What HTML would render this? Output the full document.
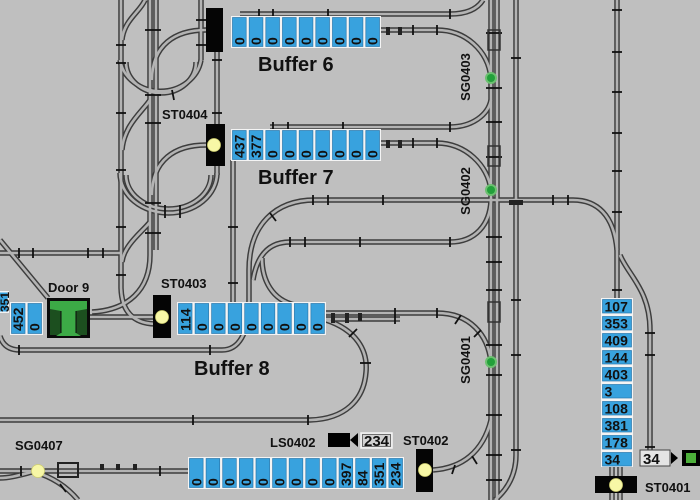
<!DOCTYPE html>
<html><head><meta charset="utf-8">
<style>
html,body{margin:0;padding:0;background:#bfbfbf;}
svg{display:block;}
text{font-family:"Liberation Sans",Arial,sans-serif;font-weight:bold;fill:#111;}
</style></head><body>
<svg width="700" height="500" viewBox="0 0 700 500" xmlns="http://www.w3.org/2000/svg">
<rect width="700" height="500" fill="#bfbfbf"/>
<defs>
<g id="rails" fill="none">
<path d="M121,0 V288 Q122,323 155,324"/>
<path d="M120,60 A41,37 0 0 0 201,60"/>
<path d="M126,62 A35,31 0 0 0 196,62"/>
<path d="M201,0 V60"/>
<path d="M120,173 A48.5,40 0 0 0 217,173"/>
<path d="M126,175 A42.5,34 0 0 0 211,175"/>
<path d="M217,52 V124"/>
<path d="M217,166 V175"/>
<path d="M233,160 V303"/>
<path d="M206,30 C175,30 152,45 152,80"/>
<path d="M206,145 C175,145 152,160 152,195"/>
<path d="M150,0 V255 C150,290 128,310 92,312"/>
<path d="M156,0 V250"/>
<path d="M145,0 C140,12 124,20 122,40"/>
<path d="M150,100 C142,112 124,125 122,150"/>
<path d="M150,222 C142,232 124,245 122,262"/>
<path d="M0,253 H121"/>
<path d="M0,240 L48,298"/>
<path d="M90,317 H153"/>
<path d="M0,336 Q4,350 20,350 H222 C238,350 249,335 249,300 V270 C249,225 275,200 315,200 H573 C597,200 614,215 617,250"/>
<path d="M290,242 H450 C475,242 490,225 491,200"/>
<path d="M290,242 C268,242 257,256 253,280"/>
<path d="M262,258 C262,280 272,300 295,305"/>
<path d="M326,313 H437 C470,313 488,335 491,362"/>
<path d="M326,319 H400"/>
<path d="M326,320 C356,330 368,350 366,372 C364,400 345,419 310,420 H0"/>
<path d="M0,471 H188"/>
<path d="M0,478 C10,478 20,475 32,472"/>
<path d="M35,472 C55,478 68,488 78,500"/>
<path d="M433,470 C462,468 483,452 491,420"/>
<path d="M491,0 V500"/>
<path d="M497,0 V500"/>
<path d="M516,0 V455 Q516,482 495,500"/>
<path d="M381,30 H437 C465,30 488,50 491,78"/>
<path d="M240,14 H450 C468,14 478,8 483,0"/>
<path d="M270,127 H450 C472,127 488,115 491,100"/>
<path d="M381,143 H437 C465,143 488,165 491,190"/>
<path d="M617,0 V298"/>
<path d="M620,255 C628,275 650,290 650,330 V452"/>
<path d="M612,466 V476"/>
<path d="M620,466 V476"/>
<path d="M612,493 V500"/>
<path d="M620,493 V500"/>
</g>
</defs>
<use href="#rails" stroke="#3d3d3d" stroke-width="5.5"/>
<use href="#rails" stroke="#b3b3b3" stroke-width="2.6"/>

<!-- ties -->
<g stroke="#111" stroke-width="1.8">
<line x1="116" y1="45" x2="126" y2="45"/><line x1="116" y1="63" x2="126" y2="63"/><line x1="116" y1="113" x2="126" y2="113"/><line x1="116" y1="170" x2="126" y2="170"/><line x1="116" y1="227" x2="126" y2="227"/><line x1="116" y1="275" x2="126" y2="275"/>
<line x1="145" y1="30" x2="161" y2="30"/><line x1="145" y1="95" x2="161" y2="95"/><line x1="145" y1="123" x2="161" y2="123"/><line x1="145" y1="203" x2="161" y2="203"/><line x1="145" y1="233" x2="161" y2="233"/>
<line x1="196" y1="20" x2="206" y2="20"/><line x1="196" y1="45" x2="206" y2="45"/>
<line x1="212" y1="60" x2="222" y2="60"/><line x1="212" y1="113" x2="222" y2="113"/>
<line x1="228" y1="227" x2="238" y2="227"/><line x1="228" y1="283" x2="238" y2="283"/>
<line x1="486" y1="33" x2="502" y2="33"/><line x1="486" y1="88" x2="502" y2="88"/><line x1="486" y1="122" x2="502" y2="122"/><line x1="486" y1="157" x2="502" y2="157"/><line x1="486" y1="237" x2="502" y2="237"/><line x1="486" y1="262" x2="502" y2="262"/><line x1="486" y1="290" x2="502" y2="290"/><line x1="486" y1="345" x2="502" y2="345"/><line x1="486" y1="375" x2="502" y2="375"/><line x1="486" y1="415" x2="502" y2="415"/><line x1="486" y1="455" x2="502" y2="455"/><line x1="486" y1="480" x2="502" y2="480"/>
<line x1="511" y1="58" x2="521" y2="58"/><line x1="511" y1="300" x2="521" y2="300"/><line x1="511" y1="355" x2="521" y2="355"/><line x1="511" y1="450" x2="521" y2="450"/>
<line x1="612" y1="10" x2="622" y2="10"/><line x1="612" y1="52" x2="622" y2="52"/><line x1="612" y1="92" x2="622" y2="92"/><line x1="612" y1="133" x2="622" y2="133"/><line x1="612" y1="171" x2="622" y2="171"/><line x1="612" y1="212" x2="622" y2="212"/><line x1="612" y1="290" x2="622" y2="290"/>
<line x1="645" y1="333" x2="655" y2="333"/><line x1="645" y1="355" x2="655" y2="355"/><line x1="645" y1="447" x2="655" y2="447"/>
<line x1="259" y1="9" x2="259" y2="19"/><line x1="273" y1="9" x2="273" y2="19"/><line x1="328" y1="9" x2="328" y2="19"/><line x1="450" y1="9" x2="450" y2="19"/>
<line x1="413" y1="25" x2="413" y2="35"/><line x1="437" y1="25" x2="437" y2="35"/>
<line x1="273" y1="122" x2="273" y2="132"/><line x1="288" y1="122" x2="288" y2="132"/><line x1="343" y1="122" x2="343" y2="132"/><line x1="450" y1="122" x2="450" y2="132"/>
<line x1="413" y1="138" x2="413" y2="148"/><line x1="437" y1="138" x2="437" y2="148"/>
<line x1="313" y1="195" x2="313" y2="205"/><line x1="328" y1="195" x2="328" y2="205"/><line x1="383" y1="195" x2="383" y2="205"/><line x1="553" y1="195" x2="553" y2="205"/><line x1="568" y1="195" x2="568" y2="205"/>
<line x1="290" y1="237" x2="290" y2="247"/><line x1="305" y1="237" x2="305" y2="247"/><line x1="360" y1="237" x2="360" y2="247"/><line x1="450" y1="237" x2="450" y2="247"/>
<line x1="19" y1="248" x2="19" y2="258"/><line x1="33" y1="248" x2="33" y2="258"/><line x1="88" y1="248" x2="88" y2="258"/><line x1="103" y1="248" x2="103" y2="258"/>
<line x1="395" y1="308" x2="395" y2="324"/><line x1="437" y1="308" x2="437" y2="318"/>
<line x1="19" y1="345" x2="19" y2="355"/><line x1="210" y1="345" x2="210" y2="355"/>
<line x1="193" y1="415" x2="193" y2="425"/><line x1="308" y1="415" x2="308" y2="425"/>
<line x1="21" y1="466" x2="21" y2="476"/><line x1="160" y1="466" x2="160" y2="476"/>
<line x1="349" y1="337" x2="357" y2="329"/><line x1="360" y1="363" x2="371" y2="363"/><line x1="455" y1="324" x2="461" y2="315"/><line x1="474" y1="337" x2="481" y2="330"/>
<line x1="270" y1="213" x2="276" y2="221"/><line x1="455" y1="465" x2="452" y2="474"/><line x1="472" y1="456" x2="477" y2="464"/>
<line x1="172" y1="90" x2="174" y2="100"/><line x1="180" y1="205" x2="180" y2="218"/><line x1="165" y1="205" x2="165" y2="218"/>
<line x1="60" y1="484" x2="66" y2="492"/>
</g>

<!-- small equipment shapes -->
<g fill="#222">
<rect x="58" y="463" width="20" height="14" fill="none" stroke="#222" stroke-width="2"/>
<rect x="100" y="464" width="4" height="6"/><rect x="116" y="464" width="4" height="6"/><rect x="133" y="464" width="4" height="6"/>
<rect x="488" y="30" width="12" height="20" fill="none" stroke="#333" stroke-width="1.5"/>
<rect x="488" y="146" width="12" height="20" fill="none" stroke="#333" stroke-width="1.5"/>
<rect x="488" y="302" width="12" height="20" fill="none" stroke="#333" stroke-width="1.5"/>
<rect x="509" y="200" width="14" height="5"/>
<rect x="386" y="27" width="4" height="8"/><rect x="398" y="27" width="4" height="8"/>
<rect x="386" y="140" width="4" height="8"/><rect x="398" y="140" width="4" height="8"/>
<rect x="331" y="313" width="4" height="10"/><rect x="345" y="313" width="4" height="10"/><rect x="358" y="313" width="4" height="8"/>
</g>

<!-- Buffer 6 -->
<rect x="231" y="16" width="150" height="32" fill="#f4f4f4"/>
<g fill="#38a2de" stroke="#2a78ad" stroke-width="0.7">
<rect x="232.5" y="17.5" width="13.7" height="29"/><rect x="249.2" y="17.5" width="13.7" height="29"/><rect x="265.8" y="17.5" width="13.7" height="29"/><rect x="282.5" y="17.5" width="13.7" height="29"/><rect x="299.2" y="17.5" width="13.7" height="29"/><rect x="315.8" y="17.5" width="13.7" height="29"/><rect x="332.5" y="17.5" width="13.7" height="29"/><rect x="349.2" y="17.5" width="13.7" height="29"/><rect x="365.8" y="17.5" width="13.7" height="29"/>
</g>
<g font-size="14">
<text transform="translate(244.3,45) rotate(-90)">0</text><text transform="translate(261,45) rotate(-90)">0</text><text transform="translate(277.7,45) rotate(-90)">0</text><text transform="translate(294.3,45) rotate(-90)">0</text><text transform="translate(311,45) rotate(-90)">0</text><text transform="translate(327.7,45) rotate(-90)">0</text><text transform="translate(344.3,45) rotate(-90)">0</text><text transform="translate(361,45) rotate(-90)">0</text><text transform="translate(377.7,45) rotate(-90)">0</text>
</g>

<!-- Buffer 7 -->
<rect x="231" y="129" width="150" height="32" fill="#f4f4f4"/>
<g fill="#38a2de" stroke="#2a78ad" stroke-width="0.7">
<rect x="232.5" y="130.5" width="13.7" height="29"/><rect x="249.2" y="130.5" width="13.7" height="29"/><rect x="265.8" y="130.5" width="13.7" height="29"/><rect x="282.5" y="130.5" width="13.7" height="29"/><rect x="299.2" y="130.5" width="13.7" height="29"/><rect x="315.8" y="130.5" width="13.7" height="29"/><rect x="332.5" y="130.5" width="13.7" height="29"/><rect x="349.2" y="130.5" width="13.7" height="29"/><rect x="365.8" y="130.5" width="13.7" height="29"/>
</g>
<g font-size="14">
<text transform="translate(244.3,158) rotate(-90)">437</text><text transform="translate(261,158) rotate(-90)">377</text><text transform="translate(277.7,158) rotate(-90)">0</text><text transform="translate(294.3,158) rotate(-90)">0</text><text transform="translate(311,158) rotate(-90)">0</text><text transform="translate(327.7,158) rotate(-90)">0</text><text transform="translate(344.3,158) rotate(-90)">0</text><text transform="translate(361,158) rotate(-90)">0</text><text transform="translate(377.7,158) rotate(-90)">0</text>
</g>

<!-- Buffer 8 -->
<rect x="177" y="302" width="149" height="33" fill="#f4f4f4"/>
<g fill="#38a2de" stroke="#2a78ad" stroke-width="0.7">
<rect x="178.5" y="303.5" width="13.5" height="30"/><rect x="195.1" y="303.5" width="13.5" height="30"/><rect x="211.6" y="303.5" width="13.5" height="30"/><rect x="228.2" y="303.5" width="13.5" height="30"/><rect x="244.7" y="303.5" width="13.5" height="30"/><rect x="261.3" y="303.5" width="13.5" height="30"/><rect x="277.8" y="303.5" width="13.5" height="30"/><rect x="294.4" y="303.5" width="13.5" height="30"/><rect x="310.9" y="303.5" width="13.5" height="30"/>
</g>
<g font-size="14">
<text transform="translate(190.3,331) rotate(-90)">114</text><text transform="translate(206.9,331) rotate(-90)">0</text><text transform="translate(223.4,331) rotate(-90)">0</text><text transform="translate(240,331) rotate(-90)">0</text><text transform="translate(256.5,331) rotate(-90)">0</text><text transform="translate(273.1,331) rotate(-90)">0</text><text transform="translate(289.6,331) rotate(-90)">0</text><text transform="translate(306.2,331) rotate(-90)">0</text><text transform="translate(322.7,331) rotate(-90)">0</text>
</g>

<!-- Left cells -->
<rect x="-2" y="291" width="11" height="22" fill="#f4f4f4"/>
<rect x="-2" y="292.5" width="9.5" height="19" fill="#38a2de"/>
<rect x="10" y="302" width="33" height="33" fill="#f4f4f4"/>
<rect x="11.5" y="303.5" width="13.5" height="30" fill="#38a2de" stroke="#2a78ad" stroke-width="0.7"/>
<rect x="28" y="303.5" width="13.5" height="30" fill="#38a2de" stroke="#2a78ad" stroke-width="0.7"/>
<g font-size="14">
<text transform="translate(9,312) rotate(-90)" font-size="12">351</text>
<text transform="translate(23.2,331) rotate(-90)">452</text>
<text transform="translate(39.7,331) rotate(-90)">0</text>
</g>

<!-- Bottom strip -->
<rect x="188" y="457" width="216" height="32" fill="#f4f4f4"/>
<g fill="#38a2de" stroke="#2a78ad" stroke-width="0.7">
<rect x="189.5" y="458.5" width="13.6" height="29"/><rect x="206.1" y="458.5" width="13.6" height="29"/><rect x="222.7" y="458.5" width="13.6" height="29"/><rect x="239.4" y="458.5" width="13.6" height="29"/><rect x="256" y="458.5" width="13.6" height="29"/><rect x="272.6" y="458.5" width="13.6" height="29"/><rect x="289.2" y="458.5" width="13.6" height="29"/><rect x="305.8" y="458.5" width="13.6" height="29"/><rect x="322.5" y="458.5" width="13.6" height="29"/><rect x="339.1" y="458.5" width="13.6" height="29"/><rect x="355.7" y="458.5" width="13.6" height="29"/><rect x="372.3" y="458.5" width="13.6" height="29"/><rect x="388.9" y="458.5" width="13.6" height="29"/>
</g>
<g font-size="14">
<text transform="translate(201.3,486) rotate(-90)">0</text><text transform="translate(217.9,486) rotate(-90)">0</text><text transform="translate(234.5,486) rotate(-90)">0</text><text transform="translate(251.2,486) rotate(-90)">0</text><text transform="translate(267.8,486) rotate(-90)">0</text><text transform="translate(284.4,486) rotate(-90)">0</text><text transform="translate(301,486) rotate(-90)">0</text><text transform="translate(317.6,486) rotate(-90)">0</text><text transform="translate(334.3,486) rotate(-90)">0</text><text transform="translate(350.9,486) rotate(-90)">397</text><text transform="translate(367.5,486) rotate(-90)">84</text><text transform="translate(384.1,486) rotate(-90)">351</text><text transform="translate(400.7,486) rotate(-90)">234</text>
</g>

<!-- Right stack -->
<rect x="601" y="298" width="32" height="169" fill="#f4f4f4"/>
<g fill="#38a2de" stroke="#2a78ad" stroke-width="0.7">
<rect x="602.5" y="299.5" width="29" height="13.5"/><rect x="602.5" y="316.5" width="29" height="13.5"/><rect x="602.5" y="333.5" width="29" height="13.5"/><rect x="602.5" y="350.5" width="29" height="13.5"/><rect x="602.5" y="367.5" width="29" height="13.5"/><rect x="602.5" y="384.5" width="29" height="13.5"/><rect x="602.5" y="401.5" width="29" height="13.5"/><rect x="602.5" y="418.5" width="29" height="13.5"/><rect x="602.5" y="435.5" width="29" height="13.5"/><rect x="602.5" y="452.5" width="29" height="13.5"/>
</g>
<g font-size="14">
<text x="604.5" y="311.5">107</text><text x="604.5" y="328.5">353</text><text x="604.5" y="345.5">409</text><text x="604.5" y="362.5">144</text><text x="604.5" y="379.5">403</text><text x="604.5" y="396.5">3</text><text x="604.5" y="413.5">108</text><text x="604.5" y="430.5">381</text><text x="604.5" y="447.5">178</text><text x="604.5" y="464.5">34</text>
</g>

<!-- blocks -->
<g fill="#050505">
<rect x="206" y="8" width="17" height="44"/>
<rect x="206" y="124" width="19" height="42"/>
<rect x="153" y="295" width="18" height="43"/>
<rect x="416" y="449" width="17" height="43"/>
<rect x="595" y="476" width="42" height="17"/>
</g>
<g fill="#f7f7a6" stroke="#cfcf70" stroke-width="0.8">
<circle cx="214" cy="145" r="6.5"/>
<circle cx="162" cy="317" r="6.5"/>
<circle cx="425" cy="470" r="6.5"/>
<circle cx="616" cy="485" r="6.5"/>
<circle cx="38" cy="471" r="6.5"/>
</g>
<g>
<circle cx="491" cy="78" r="6" fill="#6cc070"/><circle cx="491" cy="78" r="4" fill="#22a03a"/>
<circle cx="491" cy="190" r="6" fill="#6cc070"/><circle cx="491" cy="190" r="4" fill="#22a03a"/>
<circle cx="491" cy="362" r="6" fill="#6cc070"/><circle cx="491" cy="362" r="4" fill="#22a03a"/>
</g>

<!-- Door 9 -->
<rect x="47" y="298" width="43" height="40" fill="#0a0a0a"/>
<rect x="50" y="301" width="37" height="34" fill="#1c4f1f"/>
<path d="M50,301 H87 V309 L76,311 V333 L81,336 H56 L61,333 V311 L50,309 Z" fill="#3caa46"/>
<line x1="61" y1="311" x2="61" y2="333" stroke="#0a0a0a" stroke-width="1"/>
<line x1="76" y1="311" x2="76" y2="333" stroke="#0a0a0a" stroke-width="1"/>

<!-- camera + boxes -->
<rect x="328" y="433" width="22" height="14" fill="#000"/>
<path d="M350,440 L358,433 V447 Z" fill="#000"/>
<rect x="361" y="433" width="31" height="15" fill="#d2d2d2" stroke="#f4f4f4" stroke-width="1.5"/>
<rect x="362.5" y="434.5" width="28" height="12" fill="none" stroke="#555" stroke-width="0.8"/>
<text x="364" y="446" font-size="15">234</text>
<rect x="640" y="450" width="30" height="16" fill="#e4e4e4" stroke="#444" stroke-width="1"/>
<text x="643" y="464" font-size="15">34</text>
<path d="M671,452 L678,458 L671,464 Z" fill="#000"/>
<rect x="682" y="450" width="18" height="16" fill="#000"/>
<rect x="686" y="453" width="10" height="10" fill="#4caf3a"/>

<!-- labels -->
<text x="258" y="71" font-size="20">Buffer 6</text>
<text x="258" y="184" font-size="20">Buffer 7</text>
<text x="194" y="375" font-size="20">Buffer 8</text>
<g font-size="13">
<text x="162" y="119">ST0404</text>
<text x="161" y="288">ST0403</text>
<text x="48" y="292">Door 9</text>
<text x="15" y="450">SG0407</text>
<text x="270" y="447">LS0402</text>
<text x="403" y="445">ST0402</text>
<text x="645" y="492">ST0401</text>
<text transform="translate(470,77) rotate(-90)" text-anchor="middle">SG0403</text>
<text transform="translate(470,191) rotate(-90)" text-anchor="middle">SG0402</text>
<text transform="translate(470,360) rotate(-90)" text-anchor="middle">SG0401</text>
</g>
</svg>
</body></html>
